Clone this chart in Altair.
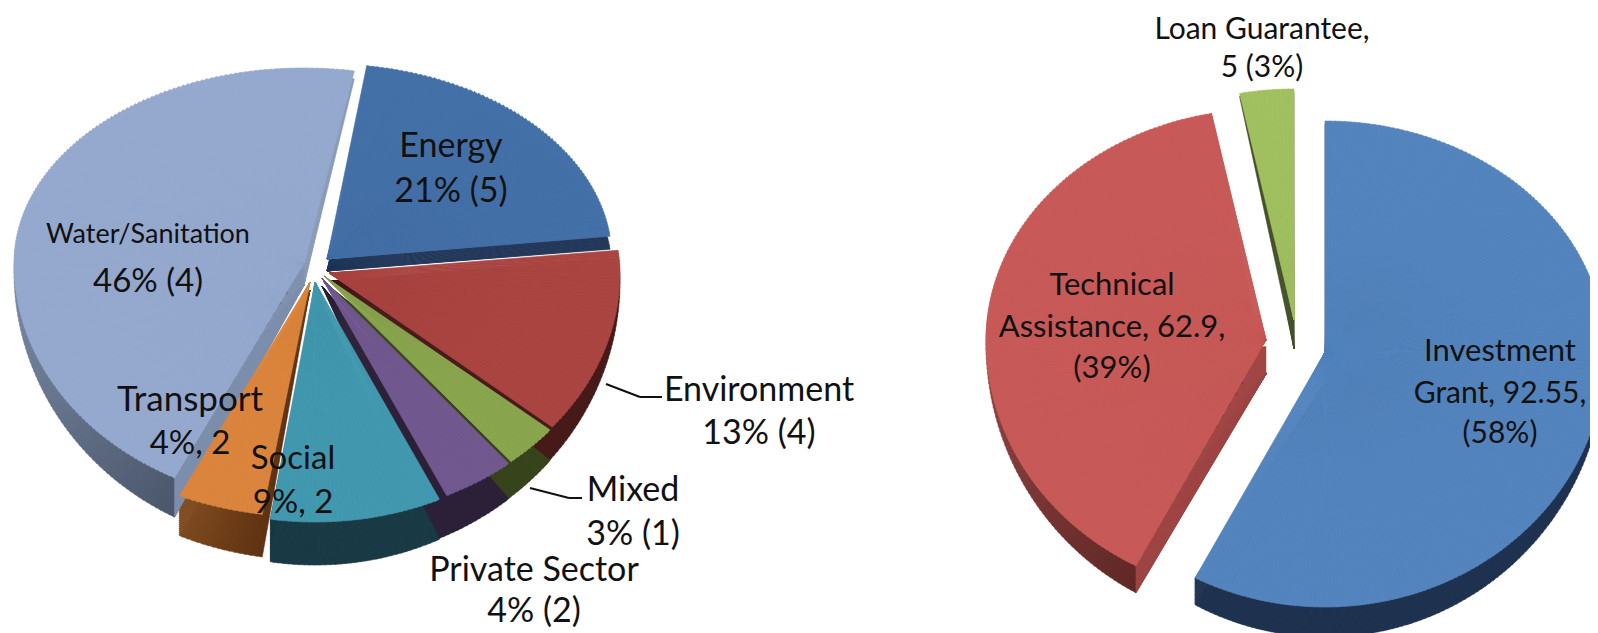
import altair as alt
import pandas as pd

# ---- data ----
left_categories = ["Energy", "Environment", "Mixed", "Private Sector", "Social", "Transport", "Water/Sanitation"]
left_values = [21, 13, 3, 4, 9.4, 4.4, 45.6]
right_categories = ["Investment Grant", "Technical Assistance", "Loan Guarantee"]
right_values = [92.55, 62.9, 5]

left_top_colors = ["#4470a8", "#aa4542", "#89a54e", "#71588f", "#4198af", "#db843d", "#95a9cf"]
left_side_colors = [("#24385a", "#24385a"), ("#451a18", "#451a18"), ("#36431b", "#36431b"),
                    ("#2c2038", "#2c2038"), ("#193a45", "#193a45"), ("#5f3212", "#7f4a1f"),
                    ("#4a566b", "#8a9bb8")]
right_top_colors = ["#5484bd", "#c75a58", "#a1c060"]
right_side_colors = [("#1e3250", "#1e3250"), ("#5e2725", "#a85050"), ("#45512a", "#45512a")]

# ---- layout of the two tilted pies (page pixels) ----
OFFSET = 8
left_apex = [(327, 259), (329, 273), (324, 276), (322, 278), (315, 282), (310, 282), (304, 263)]
left_apex_depth = [12, 8, 6, 8, 8, 8, 22]
right_apex = [(1325, 352), (1266, 340), (1294, 320)]
right_apex_depth = [30, 34, 29]

LEFT = dict(start=8, a=295, bu=195, bd=240, ds=8, dm=43)
RIGHT = dict(start=0, a=280, bu=231, bd=255, ds=3, dm=30)
# small per-slice corrections of the perspective drawing: k -> overrides
LEFT_TWEAK = {
    0: dict(a=285, ds=13),
    1: dict(a=291),
    5: dict(a=315, bd=235),
    6: dict(a=290, rot=2.0),
}
# lower faces of neighbouring slices touch, so run them on a little (degrees)
LEFT_SIDE_PAD = {1: 2, 2: 2, 3: 2}


def hex_rgb(h):
    return tuple(int(h[i:i + 2], 16) for i in (1, 3, 5))


def exprs(p):
    a, bu, bd, ds, dm = p["a"], p["bu"], p["bd"], p["ds"], p["dm"]
    X = lambda S: f"{a}*sin(({S})*PI/180)"
    Y = lambda S: f"(cos(({S})*PI/180)>=0?{bu}:{bd})*(-cos(({S})*PI/180))"
    D = lambda S: f"({ds}+({dm}-{ds})*max(0,-cos(({S})*PI/180)))"
    return X, Y, D


def ang(x, y, S):
    base = f"atan2({x},-({y}))"
    return f"{base}+2*PI*round((({S})*PI/180-{base})/(2*PI))"


def base(df, k, p, pad=0):
    rot = p.get("rot", 0)
    return (
        alt.Chart(df)
        .transform_joinaggregate(total="sum(value)")
        .transform_window(cum="sum(value)", sort=[alt.SortField("i")])
        .transform_filter(f"datum.i=={k}")
        .transform_calculate(
            t0=f"{p['start']}+{rot}+360*(datum.cum-datum.value)/datum.total",
            t1=f"{p['start']}+{rot}+{pad}+360*datum.cum/datum.total",
        )
    )


def wedge(df, k, p, cx, cy, d0, lower, colors, pad=0):
    X, Y, D = exprs(p)
    if lower:
        yy = lambda S: f"{Y(S)}+{D(S)}-{d0}"
        cy = cy + d0
        c0, c1 = hex_rgb(colors[0]), hex_rgb(colors[1])
        u = "clamp((datum.s-datum.t0)/max(1,min(80,datum.t1-datum.t0)),0,1)"
        col = "'rgb('+" + "+','+".join(
            f"round({x}+({y}-{x})*{u})" for x, y in zip(c0, c1)
        ) + "+')'"
    else:
        yy = Y
        col = f"'{colors}'"
    return (
        base(df, k, p, pad)
        .transform_calculate(ss="sequence(datum.t0,datum.t1,1)")
        .transform_flatten(["ss"], ["s"])
        .transform_calculate(s1="min(datum.s+1.1,datum.t1)")
        .transform_calculate(
            a0=ang(X("datum.s"), yy("datum.s"), "datum.s"),
            a1=ang(X("datum.s1"), yy("datum.s1"), "datum.s1"),
            col=col,
        )
        .transform_calculate(
            r=f"sqrt(pow({X('(datum.s+datum.s1)/2')},2)+pow({yy('(datum.s+datum.s1)/2')},2))"
        )
        .mark_arc(strokeWidth=0.6)
        .encode(
            theta=alt.Theta("a0:Q", scale=None, stack=None),
            theta2=alt.Theta2("a1:Q"),
            radius=alt.Radius("r:Q", scale=None),
            color=alt.Color("col:N", scale=None, legend=None),
            stroke=alt.Stroke("col:N", scale=None, legend=None),
            x=alt.value(cx - OFFSET),
            y=alt.value(cy - OFFSET),
        )
    )


def wall(df, k, p, cx, cy, d0, color, edge="t0", with_top_edge=True):
    """Cut face at one straight edge of a slice, seen below the top face:
    a fan from the lower apex, first along the rim's drop, then along the top edge."""
    X, Y, D = exprs(p)
    T = f"datum.{edge}"
    qy = lambda u: f"{Y(T)}-{d0}+({u})*{D(T)}"
    ex = lambda v: f"({v})*{X(T)}"
    ey = lambda v: f"({v})*{Y(T)}-{d0}"

    def piece(a0, a1, r):
        return (
            base(df, k, p)
            .transform_calculate(uu="sequence(0,1,0.05)")
            .transform_flatten(["uu"], ["u"])
            .transform_calculate(a0=a0, a1=a1, r=r)
            .mark_arc(color=color, stroke=color, strokeWidth=0.5)
            .encode(
                theta=alt.Theta("a0:Q", scale=None, stack=None),
                theta2=alt.Theta2("a1:Q"),
                radius=alt.Radius("r:Q", scale=None),
                x=alt.value(cx - OFFSET),
                y=alt.value(cy + d0 - OFFSET),
            )
        )

    parts = [piece(
        ang(X(T), qy("datum.u"), T),
        ang(X(T), qy("datum.u+0.06"), T),
        f"sqrt(pow({X(T)},2)+pow({qy('datum.u+0.03')},2))",
    )]
    if with_top_edge:
        parts.append(piece(
            ang(ex("datum.u"), ey("datum.u"), T),
            ang(ex("datum.u+0.06"), ey("datum.u+0.06"), T),
            f"sqrt(pow({ex('datum.u+0.03')},2)+pow({ey('datum.u+0.03')},2))",
        ))
    return parts


def lp(k):
    return {**LEFT, **LEFT_TWEAK.get(k, {})}


left_df = pd.DataFrame({"i": range(len(left_values)), "category": left_categories, "value": left_values})
right_df = pd.DataFrame({"i": range(len(right_values)), "category": right_categories, "value": right_values})

layers = []
# lower faces first, far slices before near ones
for k in [6, 0, 1, 2, 3, 5, 4]:
    cx, cy = left_apex[k]
    d0 = left_apex_depth[k]
    layers.append(wedge(left_df, k, lp(k), cx, cy, d0, True, left_side_colors[k], LEFT_SIDE_PAD.get(k, 0)))
    if k in (4, 5):
        layers.extend(wall(left_df, k, lp(k), cx, cy, d0, left_side_colors[k][1], edge="t1", with_top_edge=False))
layers.extend(wall(left_df, 6, lp(6), *left_apex[6], left_apex_depth[6], "#7f91ae"))
for k in [2, 1, 0]:
    cx, cy = right_apex[k]
    layers.append(wedge(right_df, k, RIGHT, cx, cy, right_apex_depth[k], True, right_side_colors[k]))
layers.extend(wall(right_df, 0, RIGHT, *right_apex[0], right_apex_depth[0], right_side_colors[0][1], edge="t1", with_top_edge=False))
layers.extend(wall(right_df, 1, RIGHT, *right_apex[1], right_apex_depth[1], "#a04746"))
# top faces
for k in range(7):
    cx, cy = left_apex[k]
    layers.append(wedge(left_df, k, lp(k), cx, cy, left_apex_depth[k], False, left_top_colors[k]))
for k in range(3):
    cx, cy = right_apex[k]
    layers.append(wedge(right_df, k, RIGHT, cx, cy, right_apex_depth[k], False, right_top_colors[k]))

# leader lines
one_row = alt.Data(values=[{"k": 0}])
leaders = [
    (606, 384, 640, 397), (640, 397, 662, 397),
    (530, 488, 569, 498), (569, 498, 582, 498),
]
for x1, y1, x2, y2 in leaders:
    layers.append(
        alt.Chart(one_row).mark_rule(color="#111111", strokeWidth=2).encode(
            x=alt.value(x1 - OFFSET), y=alt.value(y1 - OFFSET),
            x2=alt.value(x2 - OFFSET), y2=alt.value(y2 - OFFSET),
        )
    )

# labels: text, centre x, centre y, size
labels = [
    ("Energy", 451, 147, 34), ("21% (5)", 451, 192, 34),
    ("Water/Sanitation", 148, 235, 27), ("46% (4)", 148, 282, 33),
    ("Transport", 190, 400, 35), ("4%, 2", 190, 444, 33),
    ("Social", 293, 459, 33), ("9%, 2", 293, 503, 33),
    ("Environment", 759, 391, 34), ("13% (4)", 759, 434, 34),
    ("Mixed", 633, 491, 34), ("3% (1)", 633, 535, 34),
    ("Private Sector", 534, 571, 34), ("4% (2)", 534, 612, 34),
    ("Loan Guarantee,", 1262, 30, 30), ("5 (3%)", 1262, 68, 30),
    ("Technical", 1112, 286, 31), ("Assistance, 62.9,", 1112, 328, 31), ("(39%)", 1112, 369, 31),
    ("Investment", 1500, 352, 31), ("Grant, 92.55,", 1500, 394, 30), ("(58%)", 1500, 434, 30),
]
for text, x, y, size in labels:
    layers.append(
        alt.Chart(alt.Data(values=[{"label": text}]))
        .mark_text(font="Lato", fontSize=size, color="#111111", align="center", baseline="middle")
        .encode(text="label:N", x=alt.value(x - OFFSET), y=alt.value(y - OFFSET))
    )

chart = (
    alt.layer(*layers)
    .properties(width=1582, height=625, padding=0, autosize=alt.AutoSizeParams(type="none"), background="white")
    .configure_view(stroke=None)
)
chart.save("out.html", embed_options={"renderer": "svg", "actions": False})
